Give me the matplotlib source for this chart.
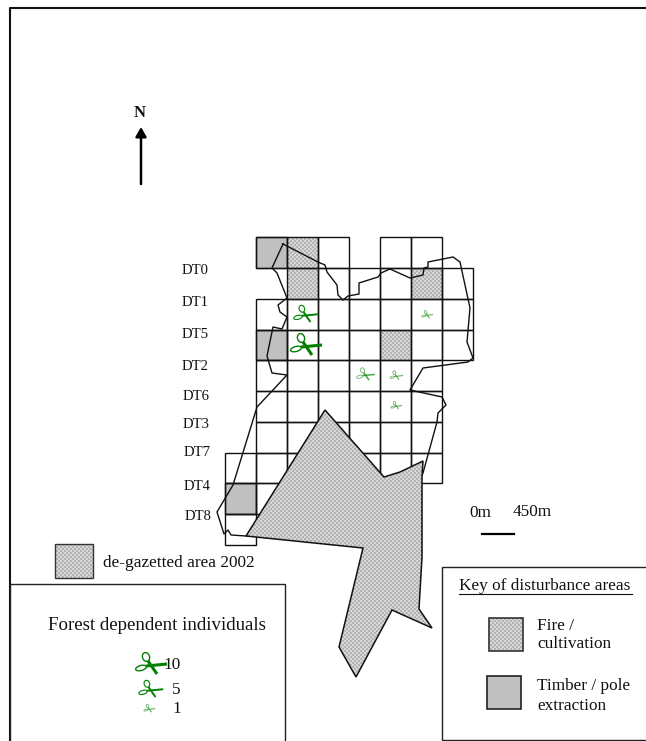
import numpy as np
import matplotlib
matplotlib.use("Agg")
import matplotlib.pyplot as plt
from matplotlib.patches import Polygon, Rectangle, Ellipse

plt.rcParams['font.family'] = ['Liberation Serif', 'DejaVu Serif']

# ---- map data (pixel-based map coordinates) ----
x_edges = [225, 256, 287, 318, 349, 380, 411, 442, 473]
y_edges = [237, 268, 299, 330, 360, 391, 422, 453, 483, 514, 545]
# columns (index into x_edges) present in each grid row
row_cols = [
    [1, 2, 3, 5, 6],
    [2, 3, 4, 5, 6, 7],
    [1, 2, 3, 4, 5, 6, 7],
    [1, 2, 3, 4, 5, 6, 7],
    [1, 2, 3, 4, 5, 6],
    [1, 2, 3, 4, 5, 6],
    [1, 2, 3, 4, 5, 6],
    [0, 1, 2, 3, 4, 5, 6],
    [0, 1, 2],
    [0],
]
timber_cells = [(0, 1), (3, 1), (8, 0)]
fire_cells = [(0, 2), (1, 2), (1, 6), (3, 5)]

transect_labels = ['DT0', 'DT1', 'DT5', 'DT2', 'DT6', 'DT3', 'DT7', 'DT4', 'DT8']
transect_y = [270, 302, 334, 366, 396, 424, 453, 486, 517]
transect_x = [182, 182, 182, 182, 183, 183, 184, 184, 185]

boundary_x = [283, 318, 325, 327, 337, 338, 343, 348, 359, 359, 378, 381, 390, 410, 423, 424, 428, 428,
              453, 460, 470, 467, 473, 468, 423, 410, 442, 446, 438, 437, 423, 408, 246,
              231, 228, 224, 217, 233, 257, 272, 287, 272, 267, 273, 282, 287, 280, 278, 287, 277, 272, 283]
boundary_y = [244, 262, 265, 272, 285, 295, 300, 296, 294, 283, 277, 273, 269, 278, 275, 268, 267, 262,
              257, 262, 308, 342, 358, 362, 368, 390, 397, 405, 413, 422, 473, 500, 536,
              535, 530, 534, 512, 485, 407, 391, 375, 373, 356, 327, 329, 317, 312, 305, 298, 273, 268, 244]

degazetted_x = [325, 384, 400, 423, 422, 422, 419, 432, 392, 356, 339, 363, 246]
degazetted_y = [410, 477, 472, 461, 477, 557, 609, 628, 610, 677, 647, 548, 536]

# individuals: x, y, count
ind_x = [305, 305, 365, 396, 427, 396]
ind_y = [315, 346, 375, 376, 315, 406]
ind_n = [5, 10, 3, 2, 1, 1]
ind_scale = {1: 0.36, 2: 0.42, 3: 0.58, 5: 0.78, 10: 1.0}

legend_counts = [10, 5, 1]
legend_count_x = [150, 150, 149]
legend_count_y = [665, 690, 709]

GREY = '#c0c0c0'
TXT = '#111111'
FS = 12.4

fig = plt.figure(figsize=(6.46, 7.41), dpi=100)
ax = fig.add_axes([0, 0, 1, 1])
ax.set_xlim(0, 646)
ax.set_ylim(741, 0)
ax.axis('off')

# fine checker screen used for dotted fills (drawing texture, not data)
_yy, _xx = np.mgrid[0:741, 0:646]
CHECK = np.where(((_xx // 2) + (_yy // 2)) % 2 == 0, 0.84, 0.70)


def dotted(verts, lw=1.0, z=3, ec='#333333'):
    outline = Polygon(verts, closed=True, fill=False, edgecolor=ec, lw=lw, zorder=z + 0.1)
    ax.add_patch(outline)
    clip = Polygon(verts, closed=True, facecolor='none', edgecolor='none', transform=ax.transData)
    ax.add_patch(clip)
    im = ax.imshow(CHECK, cmap='gray', vmin=0, vmax=1, extent=(0, 646, 741, 0), aspect='auto',
                   interpolation='nearest', zorder=z)
    im.set_clip_path(clip)


def rect(x0, y0, x1, y1):
    return [(x0, y0), (x1, y0), (x1, y1), (x0, y1)]


def scissors(x, y, n):
    s = ind_scale[n]
    col = '#008000'
    a = 1.0 if n >= 5 else 0.7
    lw1 = {10: 2.2, 5: 1.4, 3: 1.1}.get(n, 0.7)
    lw2 = {10: 1.0, 5: 0.8}.get(n, 0.5)
    ax.plot([x - 4 * s, x + 17 * s], [y + 1 * s, y - 1 * s], color=col, lw=lw1, alpha=a, zorder=6,
            solid_capstyle='butt')
    ax.plot([x - 2 * s, x + 7 * s], [y - 4 * s, y + 9 * s], color=col, lw=lw1, alpha=a, zorder=6,
            solid_capstyle='butt')
    ax.add_patch(Ellipse((x - 4 * s, y - 8 * s), 7 * s, 9 * s, angle=-20, fill=False,
                         edgecolor=col, lw=lw2, alpha=a, zorder=6))
    ax.add_patch(Ellipse((x - 9 * s, y + 3 * s), 11 * s, 5 * s, angle=-15, fill=False,
                         edgecolor=col, lw=lw2, alpha=a, zorder=6))


# page frame
ax.plot([10, 10, 646], [741, 8, 8], color='#111111', lw=1.5)

# grid
for r, cols in enumerate(row_cols):
    for c in cols:
        ax.add_patch(Rectangle((x_edges[c], y_edges[r]), x_edges[c + 1] - x_edges[c],
                               y_edges[r + 1] - y_edges[r], facecolor='none',
                               edgecolor='#111111', lw=1.0, zorder=2))
for r, c in timber_cells:
    ax.add_patch(Rectangle((x_edges[c], y_edges[r]), x_edges[c + 1] - x_edges[c],
                           y_edges[r + 1] - y_edges[r], facecolor=GREY,
                           edgecolor='#333333', lw=1.0, zorder=1.5))
for r, c in fire_cells:
    dotted(rect(x_edges[c], y_edges[r], x_edges[c + 1], y_edges[r + 1]), lw=0.6, z=1.5)

# boundary and de-gazetted area
ax.plot(boundary_x, boundary_y, color='#111111', lw=1.0, zorder=3)
dotted(list(zip(degazetted_x, degazetted_y)), lw=1.1, z=4, ec='#111111')

for x, y, n in zip(ind_x, ind_y, ind_n):
    scissors(x, y, n)

for lab, x, y in zip(transect_labels, transect_x, transect_y):
    ax.text(x, y, lab, ha='left', va='center', fontsize=10.6, color=TXT, zorder=7)

# north arrow
ax.text(140, 113, 'N', ha='center', va='center', fontsize=12, fontweight='bold', color=TXT)
ax.annotate('', xy=(141, 127), xytext=(141, 184),
            arrowprops=dict(arrowstyle='-|>,head_length=0.35,head_width=0.2', color='black', lw=1.8,
                            mutation_scale=16, shrinkA=0, shrinkB=0))

# scale bar
ax.text(469, 513, '0m', ha='left', va='center', fontsize=FS, color=TXT)
ax.text(513, 512, '450m', ha='left', va='center', fontsize=FS, color=TXT)
ax.plot([482, 514], [534, 534], color='black', lw=1.6)

# de-gazetted legend
dotted(rect(55, 544, 93, 578), lw=1.0)
ax.text(103, 563, 'de-gazetted area 2002', ha='left', va='center', fontsize=FS, color=TXT)

# individuals legend
ax.add_patch(Rectangle((10, 584), 275, 170, facecolor='white', edgecolor='#222222', lw=1.0, zorder=2))
ax.text(48, 625, 'Forest dependent individuals', ha='left', va='center', fontsize=13.6, color=TXT, zorder=7)
for n, x, y in zip(legend_counts, legend_count_x, legend_count_y):
    scissors(x, y, n)
    ax.text(181, y, str(n), ha='right', va='center', fontsize=FS, color=TXT, zorder=7)

# disturbance key
ax.add_patch(Rectangle((442, 567), 210, 173, facecolor='white', edgecolor='#222222', lw=1.0, zorder=2))
ax.text(459, 586, 'Key of disturbance areas', ha='left', va='center', fontsize=FS, color=TXT, zorder=7)
ax.plot([459, 632], [594, 594], color=TXT, lw=0.8, zorder=7)
dotted(rect(489, 618, 523, 651), lw=1.2, z=3)
ax.text(537, 635, 'Fire /\ncultivation', ha='left', va='center', fontsize=FS, color=TXT,
        linespacing=1.25, zorder=7)
ax.add_patch(Rectangle((487, 676), 34, 33, facecolor=GREY, edgecolor='#222222', lw=1.2, zorder=3))
ax.text(537, 696, 'Timber / pole\nextraction', ha='left', va='center', fontsize=FS, color=TXT,
        linespacing=1.25, zorder=7)

ax.set_xlim(0, 646)
ax.set_ylim(741, 0)
fig.savefig('out.png', dpi=100)
